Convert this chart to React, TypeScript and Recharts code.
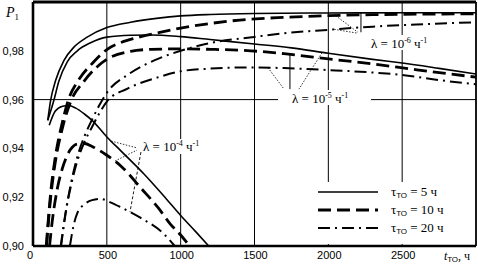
import React from 'react';
import { LineChart, Line, XAxis, YAxis, CartesianGrid, ReferenceLine } from 'recharts';

type Pt = [number, number];

// t_TO (h) , P1
const lam6Tau5: Pt[] = [[100,0.9515],[119,0.9596],[153,0.9678],[209,0.976],[277,0.9815],[367,0.9856],[500,0.9895],[661,0.9917],[850,0.9934],[1000,0.9943],[1200,0.9949],[1500,0.9953],[2000,0.9955],[2500,0.9956],[3000,0.9956]];
const lam5Tau5: Pt[] = [[100,0.9515],[141,0.9596],[175,0.9675],[232,0.9755],[300,0.980],[390,0.9833],[500,0.9856],[661,0.9864],[800,0.9865],[1000,0.9858],[1200,0.9846],[1500,0.9828],[1750,0.9812],[2000,0.979],[2300,0.9765],[2500,0.975],[2750,0.9728],[3000,0.9705]];
const lam4Tau5: Pt[] = [[110,0.9495],[150,0.9552],[200,0.9573],[240,0.9576],[290,0.9565],[350,0.954],[400,0.9515],[500,0.9447],[600,0.9387],[750,0.9296],[900,0.9195],[1000,0.9125],[1100,0.906],[1190,0.900]];

const lam6Tau10: Pt[] = [[90,0.90],[100,0.908],[120,0.922],[150,0.936],[200,0.951],[243,0.9605],[300,0.9672],[412,0.9755],[500,0.9805],[600,0.9835],[700,0.9853],[850,0.9874],[1000,0.9893],[1200,0.9912],[1400,0.9926],[1700,0.9937],[2000,0.9944],[2300,0.9948],[2600,0.995],[3000,0.9952]];
const lam5Tau10: Pt[] = [[92,0.90],[100,0.9065],[120,0.920],[150,0.934],[200,0.9485],[254,0.959],[345,0.9675],[435,0.9735],[500,0.9765],[661,0.9798],[800,0.9806],[1000,0.9808],[1200,0.9806],[1475,0.980],[1700,0.9788],[2000,0.9767],[2300,0.9746],[2600,0.9722],[3000,0.9692]];
const lam4Tau10: Pt[] = [[112,0.90],[130,0.910],[160,0.922],[200,0.932],[250,0.9392],[300,0.9418],[350,0.942],[400,0.9408],[500,0.9372],[600,0.9325],[730,0.9238],[850,0.9155],[930,0.909],[1000,0.9045],[1060,0.90]];

const lam6Tau20: Pt[] = [[188,0.90],[220,0.9135],[260,0.9265],[300,0.9365],[350,0.9452],[400,0.9518],[450,0.9578],[500,0.9628],[650,0.9705],[850,0.9768],[1000,0.980],[1200,0.9832],[1500,0.9857],[1700,0.9872],[2000,0.9886],[2300,0.9899],[2600,0.9908],[3000,0.9917]];
const lam5Tau20: Pt[] = [[190,0.90],[220,0.913],[260,0.9255],[300,0.9348],[350,0.9428],[400,0.9488],[450,0.9545],[500,0.9592],[640,0.9645],[850,0.9692],[1000,0.9716],[1200,0.9727],[1450,0.9732],[1700,0.9729],[2000,0.9721],[2300,0.9711],[2500,0.9701],[2750,0.968],[3000,0.9663]];
const lam4Tau20: Pt[] = [[250,0.90],[275,0.9085],[300,0.9135],[350,0.9172],[400,0.9188],[460,0.9193],[520,0.918],[600,0.9157],[730,0.9115],[880,0.9053],[960,0.90]];

const xTicks = [0, 500, 1000, 1500, 2000, 2500];
const yTicks = [0.90, 0.92, 0.94, 0.96, 0.98];
const yTickLabels = ['0,90', '0,92', '0,94', '0,96', '0,98'];
const legendLabels = ['5', '10', '20'];

const SOLID = { strokeWidth: 1.6, strokeDasharray: undefined as string | undefined };
const DASHED = { strokeWidth: 2.8, strokeDasharray: '13 6' };
const DASHDOT = { strokeWidth: 2, strokeDasharray: '12 5 2 5' };

const series = [
  { key: 'l6t5', pts: lam6Tau5, st: SOLID },
  { key: 'l5t5', pts: lam5Tau5, st: SOLID },
  { key: 'l4t5', pts: lam4Tau5, st: SOLID },
  { key: 'l6t10', pts: lam6Tau10, st: DASHED },
  { key: 'l5t10', pts: lam5Tau10, st: DASHED },
  { key: 'l4t10', pts: lam4Tau10, st: DASHED },
  { key: 'l6t20', pts: lam6Tau20, st: DASHDOT },
  { key: 'l5t20', pts: lam5Tau20, st: DASHDOT },
  { key: 'l4t20', pts: lam4Tau20, st: DASHDOT },
];

// leader lines (data coordinates)
const leaders: { a: [number, number]; b: [number, number]; dash: string | undefined; w: number }[] = [
  // lambda 1e-6
  { a: [2050, 0.9944], b: [2200, 0.9876], dash: '1.5 1.5', w: 0.8 },
  { a: [2040, 0.9888], b: [2200, 0.9872], dash: '1.5 1.5', w: 0.8 },
  { a: [2221, 0.9955], b: [2221, 0.9876], dash: undefined, w: 1 },
  // lambda 1e-5
  { a: [1591, 0.9731], b: [1700, 0.9643], dash: '1.5 1.5', w: 0.8 },
  { a: [1740, 0.9786], b: [1740, 0.9643], dash: undefined, w: 1 },
  { a: [1957, 0.9792], b: [1801, 0.9643], dash: '1.5 1.5', w: 0.8 },
  // lambda 1e-4
  { a: [530, 0.9430], b: [704, 0.9402], dash: '1.5 1.5', w: 0.8 },
  { a: [555, 0.9348], b: [704, 0.9393], dash: '1.5 1.5', w: 0.8 },
  { a: [731, 0.9385], b: [657, 0.9140], dash: '3 2', w: 0.9 },
];

const sans = 'Liberation Sans, Arial, sans-serif';
const serif = 'Liberation Serif, Times New Roman, serif';

const XTick = (props: any) => {
  const { x, payload } = props;
  const dx = payload.value === 0 ? -3 : 1;
  return (
    <text x={x + dx} y={259} textAnchor="middle" fontFamily={sans} fontSize={11} fill="#000">
      {String(payload.value)}
    </text>
  );
};

const YTick = (props: any) => {
  const { y, payload } = props;
  const i = yTicks.findIndex((v) => Math.abs(v - payload.value) < 1e-6);
  return (
    <text x={24} y={y + 4} textAnchor="end" fontFamily={sans} fontSize={11} fill="#000">
      {i >= 0 ? yTickLabels[i] : ''}
    </text>
  );
};

const Lam = ({ x, y, exp }: { x: number; y: number; exp: string }) => (
  <text x={x} y={y} fontFamily={serif} fontSize={13} fill="#000">
    λ = 10
    <tspan dy={-5} fontSize={8}>{exp}</tspan>
    <tspan dy={5}> ч</tspan>
    <tspan dy={-5} fontSize={8}>-1</tspan>
  </text>
);

const legendStyles = [SOLID, DASHED, DASHDOT];

export default function App() {
  return (
    <div style={{ position: 'absolute', left: 0, top: 0, width: 478, height: 265, background: '#fff' }}>
      <LineChart width={478} height={265} margin={{ top: 2, right: 2, left: 0, bottom: 0 }}>
        <CartesianGrid stroke="#000" strokeWidth={1} horizontalValues={[0.96]} />
        <XAxis
          dataKey="t"
          type="number"
          domain={[0, 3000]}
          ticks={xTicks}
          height={19}
          tickLine={false}
          axisLine={{ stroke: '#000', strokeWidth: 2.6 }}
          tick={XTick}
          allowDataOverflow
        />
        <YAxis
          type="number"
          domain={[0.9, 1.0]}
          ticks={yTicks}
          width={33}
          tickLine={false}
          axisLine={{ stroke: '#000', strokeWidth: 2.6 }}
          tick={YTick}
          allowDataOverflow
        />
        <ReferenceLine y={1.0} stroke="#000" strokeWidth={3} />
        <ReferenceLine x={3000} stroke="#000" strokeWidth={1.6} />
        {leaders.map((l, i) => (
          <ReferenceLine
            key={'ld' + i}
            segment={[{ x: l.a[0], y: l.a[1] }, { x: l.b[0], y: l.b[1] }]}
            stroke="#000"
            strokeWidth={l.w}
            strokeDasharray={l.dash}
          />
        ))}
        {series.map((s) => (
          <Line
            key={s.key}
            data={s.pts.map(([t, p]) => ({ t, p }))}
            dataKey="p"
            type="monotone"
            stroke="#000"
            strokeWidth={s.st.strokeWidth}
            strokeDasharray={s.st.strokeDasharray}
            dot={false}
            activeDot={false}
            isAnimationActive={false}
          />
        ))}
        <g>
          <rect x={369} y={35} width={68} height={15} fill="#fff" />
          <rect x={278} y={90} width={93} height={15} fill="#fff" />
          <rect x={142} y={139} width={67} height={15} fill="#fff" />
          <Lam x={371} y={48} exp="-6" />
          <Lam x={292} y={103} exp="-5" />
          <Lam x={143} y={151} exp="-4" />
          <rect x={312} y={182} width={161} height={62} fill="#fff" />
          {legendStyles.map((st, i) => (
            <g key={'lg' + i}>
              <line x1={318} x2={378} y1={192 + i * 18} y2={192 + i * 18} stroke="#000" strokeWidth={st.strokeWidth} strokeDasharray={st.strokeDasharray} />
              <text x={391} y={196 + i * 18} fontFamily={serif} fontSize={13} fill="#000">
                τ<tspan fontFamily={sans} fontSize={8} dy={2}>ТО</tspan>
                <tspan dy={-2}> = {legendLabels[i]} ч</tspan>
              </text>
            </g>
          ))}
          <text x={6} y={17} fontFamily={serif} fontSize={14} fontStyle="italic" fill="#000">
            P<tspan fontSize={9} fontStyle="normal" dy={3}>1</tspan>
          </text>
          <text x={444} y={260} fontFamily={serif} fontSize={12} fill="#000">
            <tspan fontStyle="italic">t</tspan>
            <tspan fontFamily={sans} fontSize={8} dy={2}>ТО</tspan>
            <tspan dy={-2}>, ч</tspan>
          </text>
        </g>
      </LineChart>
    </div>
  );
}
